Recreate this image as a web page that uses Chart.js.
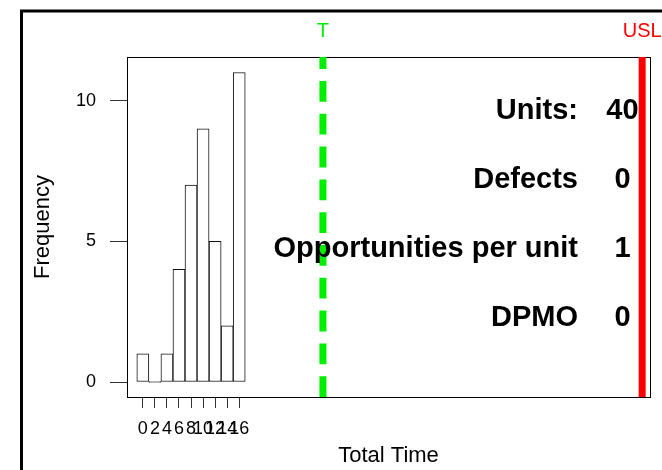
<!DOCTYPE html>
<html>
<head>
<meta charset="utf-8">
<script src="https://cdn.jsdelivr.net/npm/chart.js@4"></script>
<style>
  html, body { margin: 0; padding: 0; background: #fff; }
  canvas { display: block; }
</style>
</head>
<body>
<canvas id="capChart" width="662" height="470"></canvas>
<script>
  // histogram of Total Time
  const binCenters = [0, 2, 4, 6, 8, 10, 12, 14, 16];
  const frequencies = [1, 0, 1, 4, 7, 9, 5, 2, 11];
  const xTickValues = [0, 2, 4, 6, 8, 10, 12, 14, 16];
  const yTickValues = [0, 5, 10];
  const specNames = ['T', 'USL'];
  const specValues = [29.9, 82.9];
  const specColors = ['#00ee00', '#ff0000'];
  const statLabels = ['Units:', 'Defects', 'Opportunities per unit', 'DPMO'];
  const statValues = ['40', '0', '1', '0'];

  const fontFamily = "'Liberation Sans', Arial, sans-serif";
  Chart.defaults.font.family = fontFamily;
  Chart.defaults.color = '#000';

  const framePlugin = {
    id: 'frame',
    beforeDraw(chart) {
      const { ctx } = chart;
      ctx.save();
      ctx.fillStyle = '#fff';
      ctx.fillRect(0, 0, chart.width, chart.height);
      ctx.strokeStyle = '#000';
      ctx.lineWidth = 3;
      ctx.strokeRect(21.5, 11, chart.width + 20, chart.height + 20);
      ctx.restore();
    },
  };

  const overlayPlugin = {
    id: 'overlay',
    afterDatasetsDraw(chart) {
      const { ctx, chartArea: a, scales: { x } } = chart;
      ctx.save();
      // plot box
      ctx.strokeStyle = '#000';
      ctx.lineWidth = 1;
      ctx.strokeRect(a.left + 0.5, a.top + 0.5, a.right - a.left, a.bottom - a.top);

      // spec lines with their names above the box
      specValues.forEach((v, i) => {
        const px = x.getPixelForValue(v);
        ctx.beginPath();
        ctx.strokeStyle = specColors[i];
        ctx.lineWidth = 7;
        ctx.setLineDash(specNames[i] === 'T' ? [20.8, 12] : []);
        ctx.moveTo(px, a.bottom);
        ctx.lineTo(px, a.top);
        ctx.stroke();
        ctx.setLineDash([]);
        ctx.fillStyle = specColors[i];
        ctx.font = '20px ' + fontFamily;
        ctx.textAlign = 'center';
        ctx.textBaseline = 'alphabetic';
        ctx.fillText(specNames[i], px, 36.5);
      });

      // summary text
      ctx.fillStyle = '#000';
      ctx.font = 'bold 29px ' + fontFamily;
      statLabels.forEach((label, i) => {
        const by = a.top + 62 + 69 * i;
        ctx.textAlign = 'right';
        ctx.fillText(label, a.right - 72, by);
        ctx.textAlign = 'center';
        ctx.fillText(statValues[i], a.right - 27.5, by);
      });
      ctx.restore();
    },
  };

  new Chart(document.getElementById('capChart'), {
    type: 'bar',
    data: {
      datasets: [{
        data: binCenters.map((c, i) => ({ x: c, y: frequencies[i] })),
        backgroundColor: '#fff',
        borderColor: '#111',
        borderWidth: 1,
        borderSkipped: false,
        minBarLength: 1,
        barPercentage: 1,
        categoryPercentage: 1,
      }],
    },
    options: {
      responsive: false,
      animation: false,
      devicePixelRatio: 1,
      layout: { padding: { left: 0, top: 57, right: 12, bottom: 0 } },
      plugins: { legend: { display: false }, tooltip: { enabled: false } },
      scales: {
        x: {
          type: 'linear',
          offset: false,
          min: -2.63,
          max: 84.2,
          afterBuildTicks: s => { s.ticks = xTickValues.map(v => ({ value: v })); },
          afterFit: s => { s.height = 73; },
          grid: { offset: false, drawOnChartArea: false, tickLength: 11, color: '#333' },
          border: { display: false },
          ticks: { autoSkip: false, maxRotation: 0, minRotation: 0, padding: 10, font: { size: 18 }, color: '#000' },
          title: { display: true, text: 'Total Time', font: { size: 22 }, color: '#000', padding: { top: 0, bottom: 1 } },
        },
        y: {
          min: -0.533,
          max: 11.55,
          afterBuildTicks: s => { s.ticks = yTickValues.map(v => ({ value: v })); },
          afterFit: s => { s.width = 127; },
          grid: { drawOnChartArea: false, tickLength: 17, color: '#333' },
          border: { display: false },
          ticks: { padding: 14, font: { size: 18 }, color: '#000' },
          title: { display: true, text: 'Frequency', font: { size: 22 }, color: '#000', padding: { top: 30, bottom: 0 } },
        },
      },
    },
    plugins: [framePlugin, overlayPlugin],
  });
</script>
</body>
</html>
